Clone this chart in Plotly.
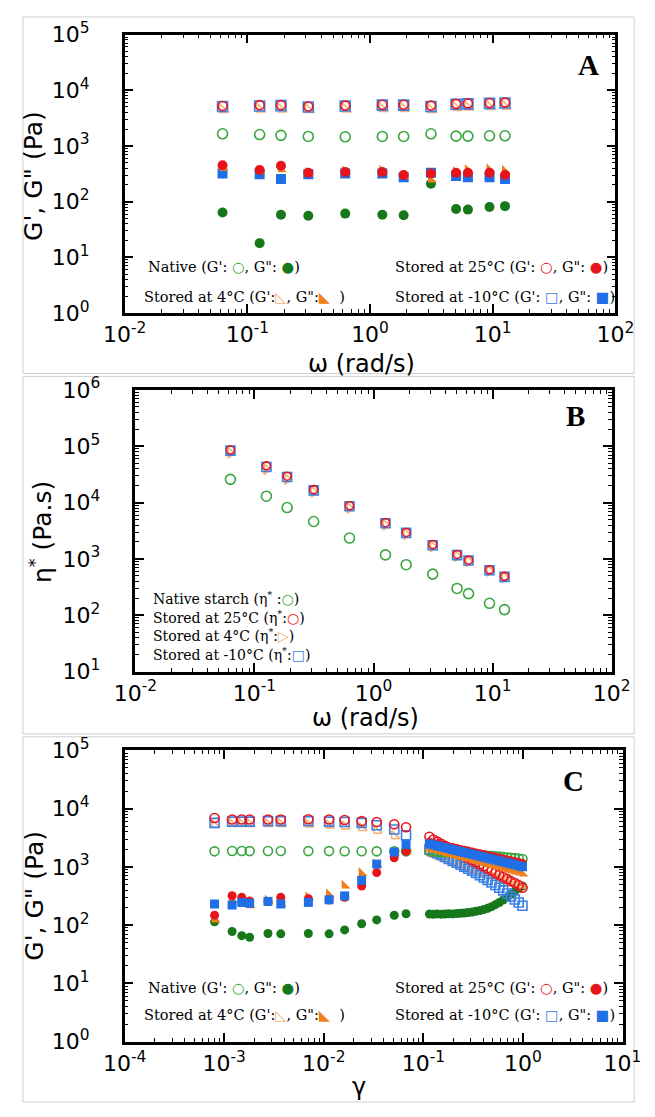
import plotly.graph_objects as go

W, H = 655, 1117

# ---------------- data ----------------
omega = [0.0628, 0.126, 0.188, 0.314, 0.628, 1.26, 1.88, 3.14, 5.03, 6.28, 9.42, 12.6]

A_native_Gp = [1650, 1600, 1550, 1480, 1460, 1480, 1480, 1650, 1500, 1500, 1520, 1520]
A_native_Gpp = [64, 18, 58, 56, 61, 58, 57, 209, 74, 72, 80, 83]
A_25_Gp = [5200, 5400, 5400, 5100, 5300, 5500, 5500, 5300, 5700, 5800, 5900, 6000]
A_25_Gpp = [450, 370, 440, 330, 340, 340, 300, 320, 330, 330, 330, 300]
A_4_Gp = [4500, 4600, 4600, 4500, 4600, 4700, 4700, 4500, 4900, 5000, 5100, 5200]
A_4_Gpp = [400, 360, 380, 330, 350, 360, 290, 250, 340, 370, 380, 360]
A_m10_Gp = [5100, 5200, 5300, 5000, 5200, 5400, 5400, 5100, 5600, 5700, 5800, 5900]
A_m10_Gpp = [320, 310, 255, 310, 320, 320, 275, 330, 290, 275, 275, 255]

B_native = [25900, 13000, 8170, 4620, 2350, 1180, 790, 537, 299, 242, 163, 126]
B_25 = [86000, 45000, 29500, 17000, 8800, 4400, 2950, 1800, 1200, 950, 640, 490]
B_4 = [76000, 39000, 26000, 15500, 8000, 4000, 2750, 1650, 1120, 900, 610, 470]
B_m10 = [84000, 43000, 28500, 16500, 8600, 4300, 2900, 1750, 1170, 935, 630, 480]

gamma = [8.0e-4, 1.2e-3, 1.5e-3, 1.8e-3, 2.75e-3, 3.7e-3, 7.0e-3, 0.0113, 0.0162, 0.024, 0.034, 0.051, 0.067,
         0.115, 0.126, 0.138, 0.151, 0.165, 0.18, 0.197, 0.216, 0.236, 0.258, 0.282, 0.309, 0.338, 0.37,
         0.404, 0.442, 0.484, 0.529, 0.579, 0.633, 0.693, 0.758, 0.829, 0.907, 0.99]

C_native_Gp = [1850, 1880, 1880, 1870, 1880, 1880, 1870, 1870, 1860, 1860, 1850, 1850, 1850,
               1860, 1840, 1815, 1800, 1775, 1760, 1735, 1720, 1700, 1675, 1660, 1640, 1615, 1600,
               1580, 1555, 1540, 1515, 1500, 1480, 1455, 1440, 1415, 1395, 1370]
C_native_Gpp = [114, 78, 66, 62, 72, 71, 72, 71, 83, 106, 123, 148, 157,
                155, 154, 156, 154, 155, 157, 156, 158, 160, 162, 165, 168, 173, 178,
                185, 195, 208, 225, 245, 270, 300, 340, 385, 430, 470]
C_25_Gp = [6900, 6500, 6500, 6500, 6500, 6500, 6600, 6500, 6400, 6100, 5900, 5400, 4800,
           3300, 2950, 2720, 2500, 2310, 2130, 1960, 1810, 1660, 1530, 1410, 1300, 1200, 1100,
           1020, 940, 860, 790, 730, 670, 620, 570, 530, 485, 440]
C_25_Gpp = [148, 320, 300, 260, 255, 300, 285, 270, 300, 470, 800, 1430, 1850,
            2650, 2560, 2470, 2390, 2300, 2230, 2150, 2080, 2000, 1935, 1870, 1800, 1740, 1680,
            1625, 1570, 1515, 1460, 1410, 1365, 1320, 1270, 1230, 1190, 1150]
C_4_Gp = [5300, 5500, 5500, 5500, 5500, 5500, 5400, 5200, 5000, 4700, 4200, 3400, 2100,
          1750, 1640, 1540, 1450, 1365, 1285, 1210, 1140, 1075, 1015, 960, 905, 855, 810,
          765, 725, 690, 655, 625, 595, 570, 545, 525, 505, 485]
C_4_Gpp = [125, 270, 240, 220, 265, 235, 300, 340, 480, 790, 1100, 1750, 1850,
           2050, 1970, 1890, 1815, 1740, 1670, 1605, 1540, 1480, 1420, 1365, 1310, 1255, 1205,
           1160, 1110, 1070, 1025, 985, 945, 905, 870, 835, 800, 770]
C_m10_Gp = [5700, 6000, 6000, 6000, 6100, 6100, 6100, 6000, 5900, 5700, 5200, 4400, 3500,
            2000, 1850, 1720, 1600, 1480, 1370, 1270, 1180, 1090, 1010, 930, 860, 790, 720,
            660, 600, 540, 490, 440, 395, 350, 310, 275, 245, 215]
C_m10_Gpp = [231, 222, 246, 237, 256, 231, 246, 273, 318, 590, 1120, 1800, 2420,
             2480, 2390, 2300, 2220, 2140, 2060, 1980, 1910, 1840, 1770, 1710, 1645, 1585, 1525,
             1470, 1415, 1365, 1315, 1265, 1220, 1175, 1130, 1090, 1050, 1010]

x_ticks_AB = [0.01, 0.1, 1, 10, 100]
x_text_AB = ["10<sup>-2</sup>", "10<sup>-1</sup>", "10<sup>0</sup>", "10<sup>1</sup>", "10<sup>2</sup>"]
y_ticks_AC = [1, 10, 100, 1000, 1e4, 1e5]
y_text_AC = ["10<sup>0</sup>", "10<sup>1</sup>", "10<sup>2</sup>", "10<sup>3</sup>", "10<sup>4</sup>", "10<sup>5</sup>"]
y_ticks_B = [10, 100, 1000, 1e4, 1e5, 1e6]
y_text_B = ["10<sup>1</sup>", "10<sup>2</sup>", "10<sup>3</sup>", "10<sup>4</sup>", "10<sup>5</sup>", "10<sup>6</sup>"]
x_ticks_C = [1e-4, 1e-3, 1e-2, 1e-1, 1, 10]
x_text_C = ["10<sup>-4</sup>", "10<sup>-3</sup>", "10<sup>-2</sup>", "10<sup>-1</sup>", "10<sup>0</sup>", "10<sup>1</sup>"]

# ---------------- styles ----------------
GREEN_O = "#3aa640"
GREEN_F = "#16781a"
RED = "#e8141c"
ORANGE_F = "#f0801c"
ORANGE_O = "#f5b27a"
BLUE_F = "#1f6fe6"
BLUE_O = "#3b80e6"

fig = go.Figure()


def add(x, y, xa, ya, symbol, color, size, lw=1.6):
    fig.add_trace(go.Scatter(x=x, y=y, mode="markers", xaxis=xa, yaxis=ya,
                             marker=dict(symbol=symbol, color=color, size=size,
                                         line=dict(width=lw, color=color)),
                             showlegend=False, hoverinfo="skip"))


# Panel A
add(omega, A_native_Gpp, "x", "y", "circle", GREEN_F, 10, 0)
add(omega, A_m10_Gpp, "x", "y", "square", BLUE_F, 10, 0)
add(omega, A_4_Gpp, "x", "y", "triangle-sw", ORANGE_F, 10, 0)
add(omega, A_25_Gpp, "x", "y", "circle", RED, 10, 0)
add(omega, A_4_Gp, "x", "y", "triangle-sw-open", ORANGE_O, 10)
add(omega, A_m10_Gp, "x", "y", "square-open", BLUE_O, 10)
add(omega, A_25_Gp, "x", "y", "circle-open", RED, 9)
add(omega, A_native_Gp, "x", "y", "circle-open", GREEN_O, 10)

# Panel B
add(omega, B_native, "x2", "y2", "circle-open", GREEN_O, 10)
add(omega, B_4, "x2", "y2", "triangle-right-open", ORANGE_O, 9)
add(omega, B_m10, "x2", "y2", "square-open", BLUE_O, 9)
add(omega, B_25, "x2", "y2", "circle-open", RED, 8)

# Panel C
add(gamma, C_native_Gpp, "x3", "y3", "circle", GREEN_F, 9, 0)
add(gamma, C_4_Gp, "x3", "y3", "triangle-sw-open", ORANGE_O, 9)
add(gamma, C_m10_Gp, "x3", "y3", "square-open", BLUE_O, 9)
add(gamma, C_25_Gp, "x3", "y3", "circle-open", RED, 9)
add(gamma, C_native_Gp, "x3", "y3", "circle-open", GREEN_O, 9)
add(gamma, C_4_Gpp, "x3", "y3", "triangle-sw", ORANGE_F, 10, 0)
add(gamma, C_25_Gpp, "x3", "y3", "circle", RED, 9, 0)
add(gamma, C_m10_Gpp, "x3", "y3", "square", BLUE_F, 9, 0)


def px(x):
    return x / W


def py(y):
    return 1 - y / H


def axis(dom, rng, tv, tt, standoff):
    return dict(type="log", domain=dom, range=rng, tickmode="array", tickvals=tv, ticktext=tt,
                showline=True, linewidth=2.5, linecolor="black", mirror="allticks",
                ticks="inside", ticklen=9, tickwidth=1.6, tickcolor="black",
                showgrid=False, zeroline=False, ticklabelstandoff=standoff,
                minor=dict(ticks="inside", ticklen=4, tickwidth=1, tickcolor="black",
                           dtick="D1", showgrid=False),
                tickfont=dict(family="DejaVu Sans", size=22, color="black"))


layout = dict(
    width=W, height=H, autosize=False,
    margin=dict(l=0, r=0, t=0, b=0),
    paper_bgcolor="white", plot_bgcolor="white",
    showlegend=False,
    xaxis=axis([px(109.5), px(633)], [-2, 2], x_ticks_AB, x_text_AB, 0),
    yaxis=axis([py(305), py(19)], [0, 5], y_ticks_AC, y_text_AC, 28),
    xaxis2=axis([px(121), px(629)], [-2, 2], x_ticks_AB, x_text_AB, 0),
    yaxis2=axis([py(673), py(384)], [1, 6], y_ticks_B, y_text_B, 28),
    xaxis3=axis([px(109.5), px(640.6)], [-4, 1], x_ticks_C, x_text_C, 0),
    yaxis3=axis([py(1053), py(754)], [0, 5], y_ticks_AC, y_text_AC, 28),
)
layout["xaxis"]["anchor"] = "y"
layout["yaxis"]["anchor"] = "x"
layout["xaxis2"]["anchor"] = "y2"
layout["yaxis2"]["anchor"] = "x2"
layout["xaxis3"]["anchor"] = "y3"
layout["yaxis3"]["anchor"] = "x3"
fig.update_layout(**layout)

SANS = "DejaVu Sans"
SERIF = "DejaVu Serif"
ann = []


def text(x, y, t, size, family, xanchor="center", angle=0, bold=False):
    ann.append(dict(x=px(x), y=py(y), xref="paper", yref="paper", text=("<b>%s</b>" % t) if bold else t,
                    showarrow=False, xanchor=xanchor, yanchor="middle", textangle=angle,
                    font=dict(family=family, size=size, color="black")))


def col(c, s):
    return "<span style='color:%s'>%s</span>" % (c, s)


# axis titles
text(13, 164, "G', G\" (Pa)", 25, SANS, angle=-90)
text(362, 357, "ω (rad/s)", 24, SANS)
text(20, 530, "η<sup>*</sup> (Pa.s)", 25, SANS, angle=-90)
text(366, 721, "ω (rad/s)", 24, SANS)
text(13, 903, "G', G\" (Pa)", 25, SANS, angle=-90)
text(359, 1100, "γ", 24, SANS)

# panel letters
text(604, 50, "A", 29, "Liberation Serif", bold=True)
text(590, 411, "B", 29, "Liberation Serif", bold=True)
text(588, 785, "C", 29, "Liberation Serif", bold=True)

# legends panel A and C
for y1, y2 in [(258, 288), (998, 1026)]:
    text(132, y1, "Native (G': " + col(GREEN_O, "○") + ", G\": " + col(GREEN_F, "●") + ")", 14.5, SERIF, "left")
    text(396, y1, "Stored at 25°C (G': " + col(RED, "○") + ", G\": " + col(RED, "●") + ")", 14.5, SERIF, "left")
    text(128, y2, "Stored at 4°C (G':" + col(ORANGE_O, "◺") + ", G\":" + col(ORANGE_F, "◣") + "  )", 14.5, SERIF, "left")
    text(396, y2, "Stored at -10°C (G': " + col(BLUE_O, "□") + ", G\": " + col(BLUE_F, "■") + ")", 14.5, SERIF, "left")

# legend panel B
text(138, 598, "Native starch (η<sup>*</sup> :" + col(GREEN_O, "○") + ")", 14, SERIF, "left")
text(138, 617, "Stored at 25°C (η<sup>*</sup>:" + col(RED, "○") + ")", 14, SERIF, "left")
text(138, 636, "Stored at 4°C (η<sup>*</sup>:" + col(ORANGE_O, "▷") + ")", 14, SERIF, "left")
text(138, 655, "Stored at -10°C (η<sup>*</sup>:" + col(BLUE_O, "□") + ")", 14, SERIF, "left")

fig.update_layout(annotations=ann)

# panel frames
shapes = []
for (y0, y1) in [(1, 367), (370, 737), (740, 1115)]:
    shapes.append(dict(type="rect", xref="paper", yref="paper", x0=px(1), x1=px(653), y0=py(y1), y1=py(y0),
                       line=dict(color="#cfcfcf", width=1), layer="below"))
fig.update_layout(shapes=shapes)

fig.write_html("out.html")
